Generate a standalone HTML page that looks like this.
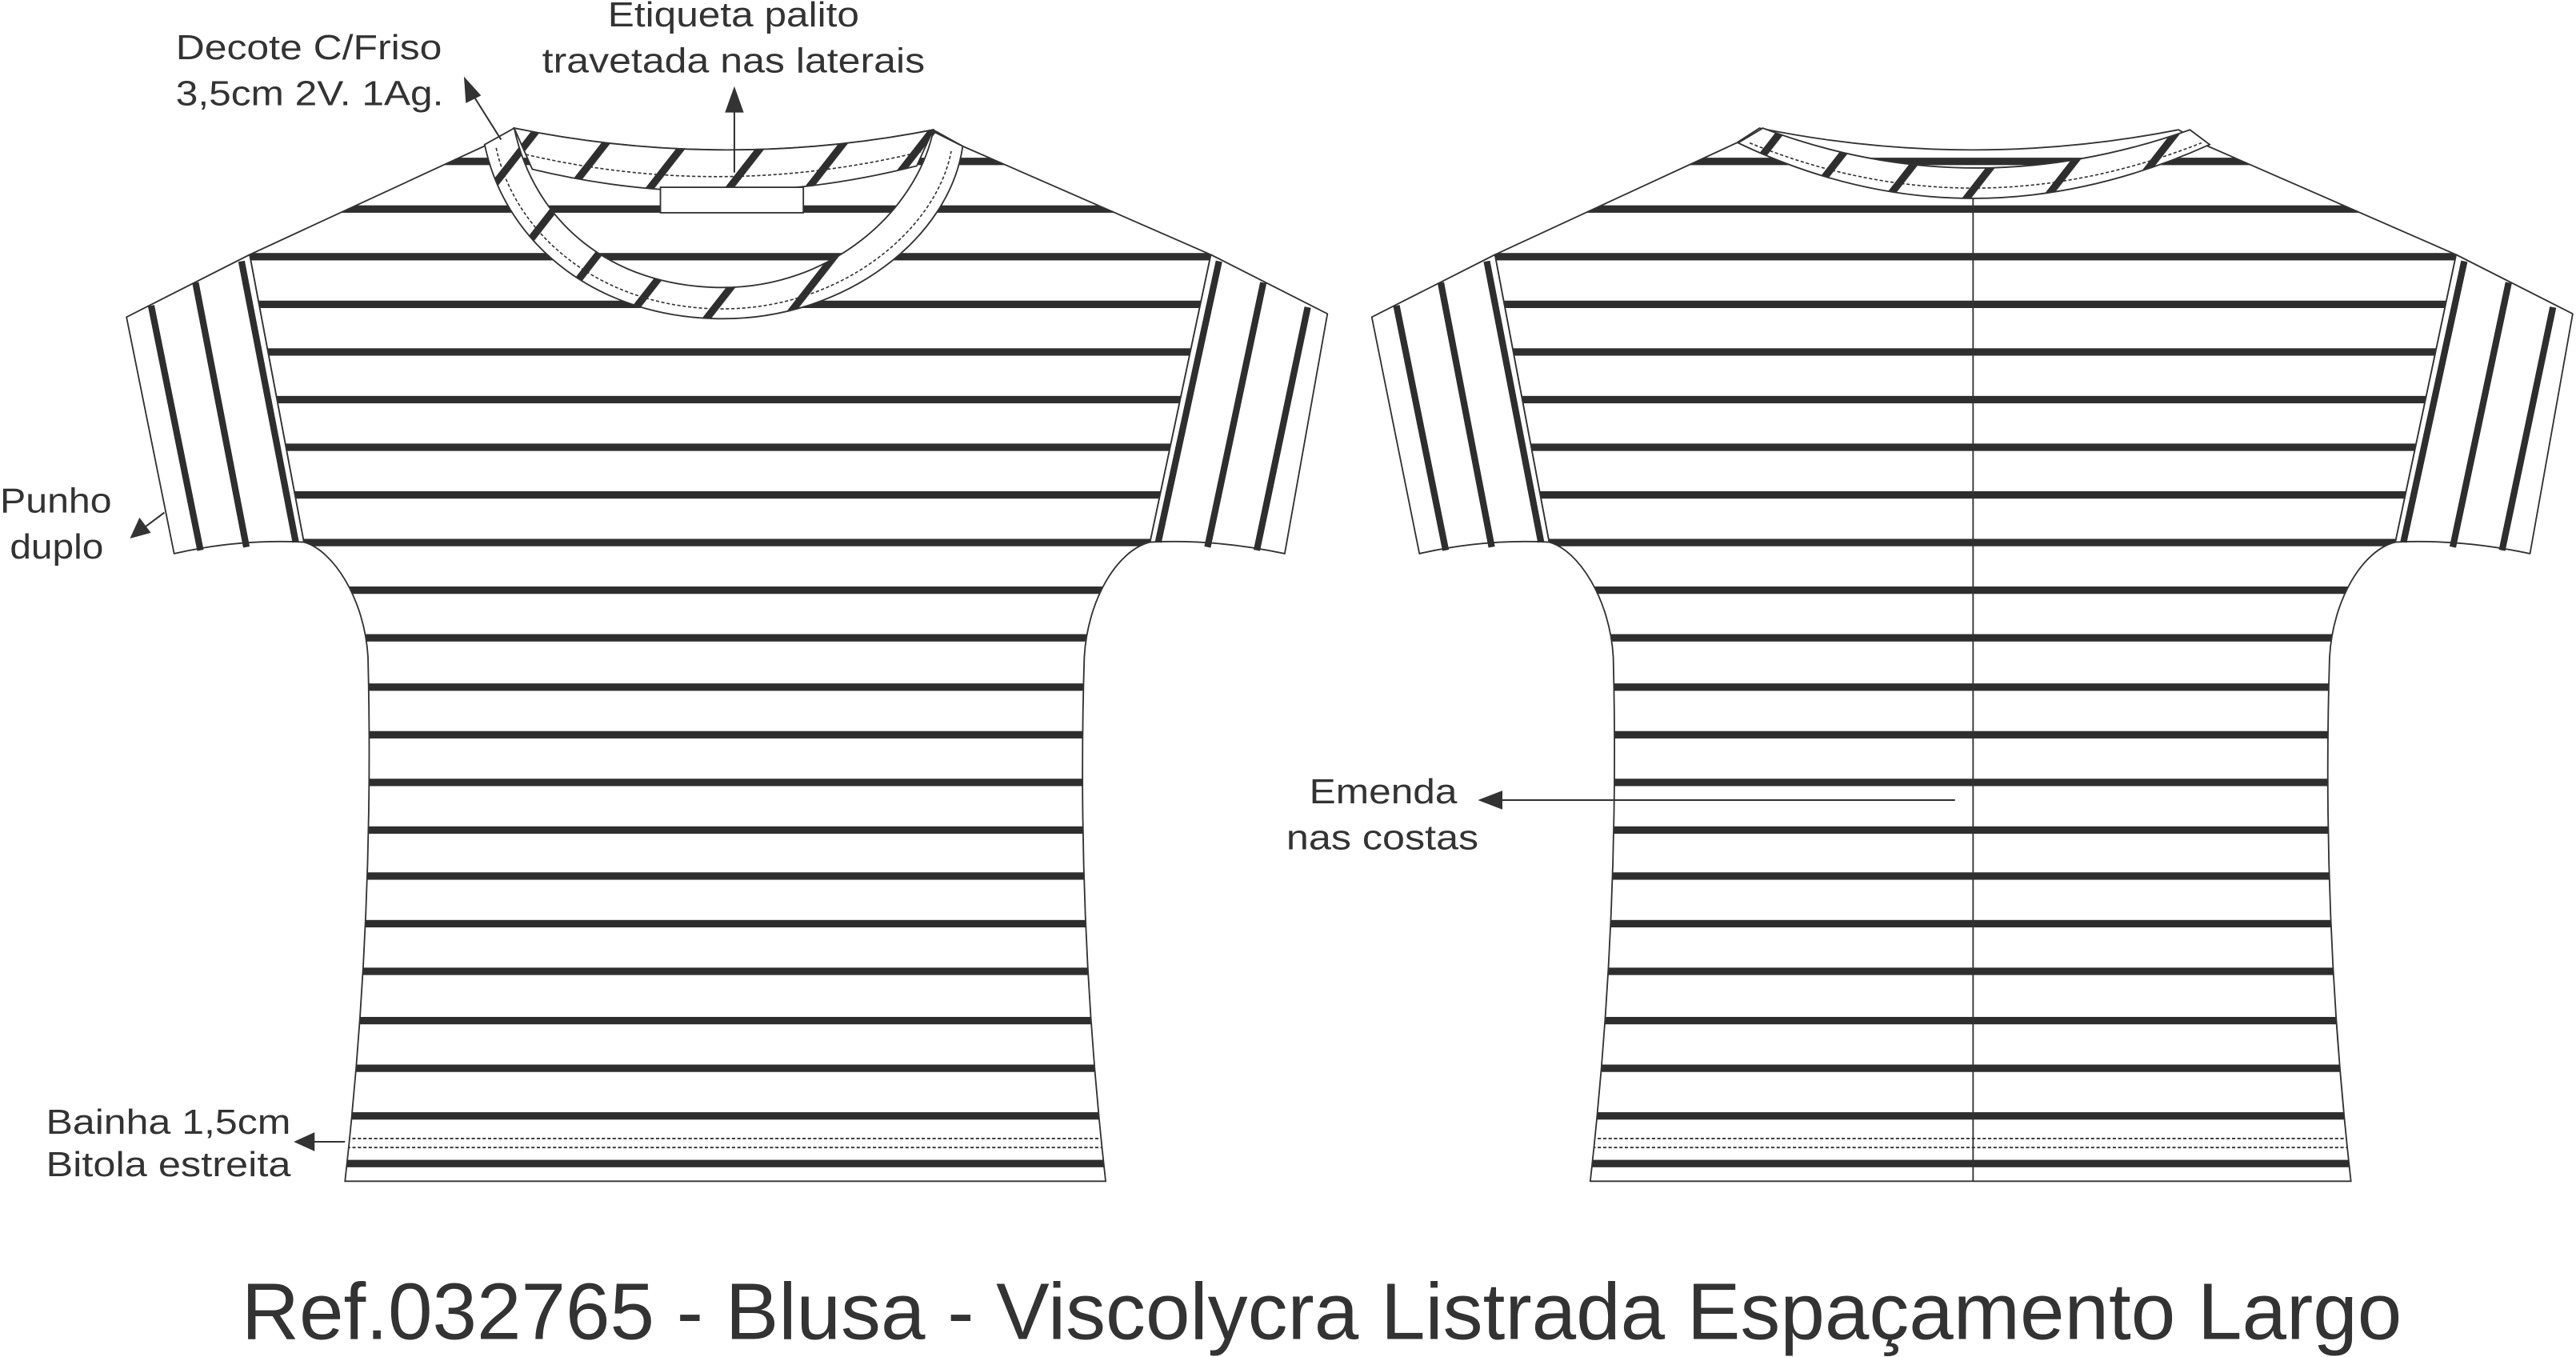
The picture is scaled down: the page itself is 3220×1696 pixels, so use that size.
<!DOCTYPE html>
<html><head><meta charset="utf-8"><style>
html,body{margin:0;padding:0;background:#fff;}
svg{display:block;}
text{font-family:"Liberation Sans",Arial,sans-serif;fill:#333;}
</style></head><body>
<svg width="3220" height="1696" viewBox="0 0 1568 826" preserveAspectRatio="none" xmlns="http://www.w3.org/2000/svg">
<defs>
  <clipPath id="torso"><path id="tp" d="M299,87 L152,155 L185,330 C203,335 222,365 224,400 Q228,560 210,719 L673,719 Q655,560 660,400 C662,365 680,335 700,330 L737,155 L586,89 L568,79 Q440,104 313,78 Z"/></clipPath>
  <pattern id="diag" patternUnits="userSpaceOnUse" width="38" height="38" patternTransform="rotate(38)">
    <rect width="38" height="38" fill="#fff"/>
    <rect x="0" y="0" width="4.5" height="38" fill="#2e2e2e"/>
  </pattern>
  <g id="stripes">
    <rect x="0" y="0" width="900" height="760" fill="#fff"/>
    <g fill="#2e2e2e">
      <rect x="0" y="96" width="900" height="4.5"/><rect x="0" y="125" width="900" height="4.5"/>
      <rect x="0" y="154" width="900" height="4.5"/><rect x="0" y="183" width="900" height="4.5"/>
      <rect x="0" y="212" width="900" height="4.5"/><rect x="0" y="241" width="900" height="4.5"/>
      <rect x="0" y="270" width="900" height="4.5"/><rect x="0" y="299" width="900" height="4.5"/>
      <rect x="0" y="328" width="900" height="4.5"/><rect x="0" y="357" width="900" height="4.5"/>
      <rect x="0" y="386" width="900" height="4.5"/><rect x="0" y="416" width="900" height="4.5"/>
      <rect x="0" y="445" width="900" height="4.5"/><rect x="0" y="474" width="900" height="4.5"/>
      <rect x="0" y="503" width="900" height="4.5"/><rect x="0" y="531" width="900" height="4.5"/>
      <rect x="0" y="560" width="900" height="4.5"/><rect x="0" y="589" width="900" height="4.5"/>
      <rect x="0" y="619" width="900" height="4.5"/><rect x="0" y="648" width="900" height="4.5"/>
      <rect x="0" y="677" width="900" height="4.5"/><rect x="0" y="706" width="900" height="4.5"/>
    </g>
    <g stroke="#333" stroke-width="0.9" stroke-dasharray="2,1.3">
      <line x1="0" y1="693" x2="900" y2="693"/><line x1="0" y1="698.5" x2="900" y2="698.5"/>
    </g>
  </g>
  <g id="sleeves" stroke="#333" stroke-width="0.9" stroke-linejoin="round">
    <path d="M152,155 L77,193 L106,337 Q145,328 185,330 Z" fill="#fff"/>
    <path d="M737,155 L808,191 L782,337 Q740,328 700,330 Z" fill="#fff"/>
    <g stroke="#2e2e2e" stroke-width="4">
      <line x1="147" y1="159" x2="180" y2="330"/><line x1="119" y1="172" x2="150" y2="333"/><line x1="92" y1="186" x2="122" y2="335"/>
      <line x1="742" y1="159" x2="705" y2="330"/><line x1="769" y1="172" x2="735" y2="333"/><line x1="796" y1="187" x2="765" y2="335"/>
    </g>
  </g>
</defs>

<!-- FRONT -->
<g>
  <use href="#sleeves"/>
  <g clip-path="url(#torso)"><use href="#stripes"/></g>
  <use href="#tp" fill="none" stroke="#333" stroke-width="0.9"/>
  <path d="M313,78 Q440,104 568,79 L558,101 Q440,131 324,103 Z" fill="url(#diag)" stroke="#333" stroke-width="0.9"/>
  <path d="M320,94 Q440,122 562,92" fill="none" stroke="#333" stroke-width="0.8" stroke-dasharray="2,1.3"/>
  <path d="M295,88 L313,78 C325,135 372,175 440,175 C505,175 557,130 568,80 L586,89 C578,145 515,194 440,194 C365,194 308,150 295,88 Z" fill="url(#diag)" stroke="#333" stroke-width="0.9"/>
  <path d="M302,90 C314,145 368,188 440,188 C512,188 570,140 579,92" fill="none" stroke="#333" stroke-width="0.8" stroke-dasharray="2,1.3"/>
  <rect x="402" y="114" width="87" height="15.5" fill="#fff" stroke="#333" stroke-width="0.9"/>
</g>

<!-- BACK -->
<g transform="translate(758,0)">
  <use href="#sleeves"/>
  <g clip-path="url(#torso)"><use href="#stripes"/></g>
  <use href="#tp" fill="none" stroke="#333" stroke-width="0.9"/>
  <line x1="443" y1="119" x2="443" y2="719" stroke="#333" stroke-width="0.9"/>
  <path d="M300,87 L315,78 Q442,126 575,79 L587,88 Q440,154 300,87 Z" fill="url(#diag)" stroke="#333" stroke-width="0.9"/>
  <path d="M307,87 Q442,142 582,87" fill="none" stroke="#333" stroke-width="0.8" stroke-dasharray="2,1.3"/>
</g>

<!-- arrows -->
<g stroke="#333" stroke-width="1" fill="#333">
  <line x1="305" y1="85" x2="288" y2="58"/><path d="M283,48 L292,58 L284,62 Z"/>
  <line x1="447" y1="105" x2="447" y2="66"/><path d="M447,54 L452,68 L442,68 Z"/>
  <line x1="100" y1="312" x2="88" y2="321"/><path d="M80,327 L85,316 L91,324 Z"/>
  <line x1="210" y1="695" x2="190" y2="695"/><path d="M180,695 L191,690 L191,700 Z"/>
  <line x1="1190" y1="487" x2="912" y2="487"/><path d="M901,487 L914,482 L914,492 Z"/>
</g>

<!-- labels -->
<g font-size="21" lengthAdjust="spacingAndGlyphs">
  <text x="107" y="36" textLength="162" lengthAdjust="spacingAndGlyphs">Decote C/Friso</text>
  <text x="107" y="64" textLength="163" lengthAdjust="spacingAndGlyphs">3,5cm 2V. 1Ag.</text>
  <text x="370" y="16" textLength="153" lengthAdjust="spacingAndGlyphs">Etiqueta palito</text>
  <text x="330" y="44" textLength="233" lengthAdjust="spacingAndGlyphs">travetada nas laterais</text>
  <text x="0" y="312" textLength="68" lengthAdjust="spacingAndGlyphs">Punho</text>
  <text x="6" y="340" textLength="57" lengthAdjust="spacingAndGlyphs">duplo</text>
  <text x="28" y="690" textLength="149" lengthAdjust="spacingAndGlyphs">Bainha 1,5cm</text>
  <text x="28" y="716" textLength="149" lengthAdjust="spacingAndGlyphs">Bitola estreita</text>
  <text x="797" y="489" textLength="90" lengthAdjust="spacingAndGlyphs">Emenda</text>
  <text x="783" y="517" textLength="117" lengthAdjust="spacingAndGlyphs">nas costas</text>
</g>
<text x="147" y="815" font-size="49" textLength="1315" lengthAdjust="spacingAndGlyphs">Ref.032765 - Blusa - Viscolycra Listrada Espaçamento Largo</text>
</svg>
</body></html>
